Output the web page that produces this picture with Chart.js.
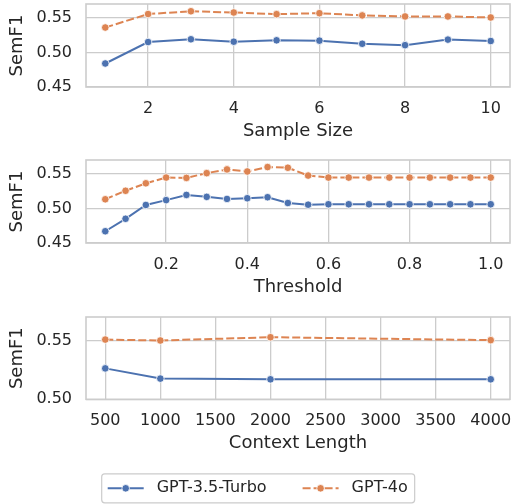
<!DOCTYPE html>
<html>
<head>
<meta charset="utf-8">
<script src="https://cdn.jsdelivr.net/npm/chart.js@4/dist/chart.umd.min.js"></script>
<style>
  html, body { margin: 0; padding: 0; background: #fff; overflow: hidden; }
  #wrap { position: relative; width: 512px; height: 504px; }
  canvas { position: absolute; left: 0; }
</style>
</head>
<body>
<div id="wrap">
  <canvas id="sampleChart" width="512" height="150" style="top:0px"></canvas>
  <canvas id="thresholdChart" width="512" height="155" style="top:150px"></canvas>
  <canvas id="contextChart" width="512" height="199" style="top:305px"></canvas>
</div>
<script>
// --- data ---
const sampleSizes = [1, 2, 3, 4, 5, 6, 7, 8, 9, 10];
const sampleGpt35 = [0.484, 0.515, 0.519, 0.5155, 0.5175, 0.517, 0.5125, 0.5105, 0.5185, 0.5165];
const sampleGpt4o = [0.536, 0.5555, 0.5595, 0.5577, 0.5553, 0.5567, 0.5535, 0.552, 0.552, 0.5505];

const thresholds = [0.05, 0.1, 0.15, 0.2, 0.25, 0.3, 0.35, 0.4, 0.45, 0.5,
                    0.55, 0.6, 0.65, 0.7, 0.75, 0.8, 0.85, 0.9, 0.95, 1.0];
const thresholdGpt35 = [0.467, 0.485, 0.505, 0.512, 0.5195, 0.5167, 0.5137, 0.5147, 0.5162, 0.5078,
                        0.5054, 0.506, 0.506, 0.506, 0.506, 0.506, 0.506, 0.506, 0.506, 0.506];
const thresholdGpt4o = [0.5132, 0.5255, 0.5363, 0.5446, 0.5441, 0.551, 0.5564, 0.5534, 0.5598, 0.5588,
                        0.5475, 0.5446, 0.5446, 0.5446, 0.5446, 0.5446, 0.5446, 0.5446, 0.5446, 0.5446];

const contextLengths = [500, 1000, 2000, 4000];
const contextGpt35 = [0.5263, 0.5176, 0.517, 0.517];
const contextGpt4o = [0.5508, 0.5500, 0.5528, 0.5503];

const seriesNames = ['GPT-3.5-Turbo', 'GPT-4o'];

// tick labels
const sampleTicks = [2, 4, 6, 8, 10];
const thresholdTicks = [0.2, 0.4, 0.6, 0.8, 1.0];
const contextTicks = [500, 1000, 1500, 2000, 2500, 3000, 3500, 4000];
const semF1Ticks = [0.45, 0.50, 0.55];
const contextSemF1Ticks = [0.50, 0.55];

const BLUE = '#4C72B0';
const ORANGE = '#DD8452';
const GRID = '#cccccc';
const TEXT = '#262626';
const FONT = '"DejaVu Sans", sans-serif';

Chart.defaults.font.family = FONT;
Chart.defaults.color = TEXT;

document.addEventListener('DOMContentLoaded', function () {
    initSampleChart();
    initThresholdChart();
    initContextChart();
});

// frame around the plot area (seaborn whitegrid spines)
const frameBox = {
    id: 'frameBox',
    beforeDatasetsDraw(chart) {
        const a = chart.chartArea;
        const ctx = chart.ctx;
        ctx.save();
        ctx.strokeStyle = GRID;
        ctx.lineWidth = 1.6;
        ctx.strokeRect(a.left, a.top, a.right - a.left, a.bottom - a.top);
        ctx.restore();
    }
};

// legend with a rounded frame below the last plot
const legendBox = {
    id: 'legendBox',
    afterDraw(chart) {
        const ctx = chart.ctx;
        const cy = 183.3;
        const startX = 107.7;
        ctx.save();
        ctx.font = '16px ' + FONT;
        ctx.textBaseline = 'middle';
        let x = startX;
        chart.data.datasets.forEach(function (ds, i) {
            if (i > 0) x += 36;
            ctx.strokeStyle = ds.borderColor;
            ctx.lineWidth = 2;
            ctx.setLineDash(ds.borderDash || []);
            ctx.beginPath();
            ctx.moveTo(x, cy);
            ctx.lineTo(x + 36, cy);
            ctx.stroke();
            ctx.setLineDash([]);
            ctx.beginPath();
            ctx.arc(x + 18, cy, 3.8, 0, Math.PI * 2);
            ctx.fillStyle = ds.borderColor;
            ctx.fill();
            ctx.strokeStyle = '#fff';
            ctx.lineWidth = 0.8;
            ctx.stroke();
            ctx.fillStyle = TEXT;
            ctx.fillText(ds.label, x + 49, cy);
            x += 49 + ctx.measureText(ds.label).width;
        });
        ctx.strokeStyle = GRID;
        ctx.lineWidth = 1.2;
        ctx.beginPath();
        ctx.roundRect(startX - 6, cy - 14.5, x + 7 - (startX - 6), 29, 3);
        ctx.stroke();
        ctx.restore();
    }
};

function makeDatasets(xs, gpt35, gpt4o) {
    const common = {
        borderWidth: 2,
        pointRadius: 3.8,
        pointHoverRadius: 3.8,
        pointBorderColor: '#fff',
        pointBorderWidth: 0.8,
        tension: 0
    };
    return [
        Object.assign({
            label: seriesNames[0],
            data: xs.map((x, i) => ({ x: x, y: gpt35[i] })),
            borderColor: BLUE,
            backgroundColor: BLUE,
            pointBackgroundColor: BLUE
        }, common),
        Object.assign({
            label: seriesNames[1],
            data: xs.map((x, i) => ({ x: x, y: gpt4o[i] })),
            borderColor: ORANGE,
            backgroundColor: ORANGE,
            pointBackgroundColor: ORANGE,
            borderDash: [8, 3]
        }, common)
    ];
}

function makeChart(id, cfg) {
    const canvas = document.getElementById(id);
    const xAxisHeight = 44 + 10.8;
    const padBottom = canvas.height - cfg.areaBottom - xAxisHeight;
    return new Chart(canvas, {
        type: 'line',
        data: { datasets: makeDatasets(cfg.xs, cfg.gpt35, cfg.gpt4o) },
        options: {
            responsive: false,
            animation: false,
            layout: {
                autoPadding: false,
                padding: { top: cfg.areaTop, right: 2, left: 0, bottom: padBottom }
            },
            plugins: {
                legend: { display: false },
                tooltip: { enabled: false }
            },
            scales: {
                x: {
                    type: 'linear',
                    min: cfg.xMin,
                    max: cfg.xMax,
                    afterBuildTicks: s => { s.ticks = cfg.xTicks.map(v => ({ value: v })); },
                    afterFit: s => {
                        s.height = xAxisHeight;
                        s.paddingLeft = 0;
                        s.paddingRight = 0;
                    },
                    grid: { color: GRID, lineWidth: 1.3, drawTicks: false },
                    border: { display: false },
                    ticks: {
                        autoSkip: false,
                        maxRotation: 0,
                        minRotation: 0,
                        padding: 12,
                        font: { size: 16 },
                        callback: cfg.xFormat
                    },
                    title: {
                        display: true,
                        text: cfg.xTitle,
                        font: { size: 18 },
                        padding: { top: 0, bottom: 0 }
                    }
                },
                y: {
                    min: cfg.yMin,
                    max: 0.57,
                    afterBuildTicks: s => { s.ticks = cfg.yTicks.map(v => ({ value: v })); },
                    afterFit: s => {
                        s.width = 86;
                        s.paddingTop = 0;
                        s.paddingBottom = 0;
                    },
                    grid: { color: GRID, lineWidth: 1.3, drawTicks: false },
                    border: { display: false },
                    ticks: {
                        padding: 14,
                        font: { size: 16 },
                        callback: v => v.toFixed(2)
                    },
                    title: {
                        display: true,
                        text: 'SemF1',
                        font: { size: 18 },
                        padding: { top: 7, bottom: 0 }
                    }
                }
            }
        },
        plugins: cfg.legend ? [frameBox, legendBox] : [frameBox]
    });
}

function initSampleChart() {
    makeChart('sampleChart', {
        xs: sampleSizes, gpt35: sampleGpt35, gpt4o: sampleGpt4o,
        areaTop: 4, areaBottom: 87,
        xMin: 0.55, xMax: 10.45, xTicks: sampleTicks,
        xFormat: v => String(v),
        xTitle: 'Sample Size',
        yMin: 0.45, yTicks: semF1Ticks
    });
}

function initThresholdChart() {
    makeChart('thresholdChart', {
        xs: thresholds, gpt35: thresholdGpt35, gpt4o: thresholdGpt4o,
        areaTop: 10, areaBottom: 93,
        xMin: 0.0025, xMax: 1.0475, xTicks: thresholdTicks,
        xFormat: v => v.toFixed(1),
        xTitle: 'Threshold',
        yMin: 0.45, yTicks: semF1Ticks
    });
}

function initContextChart() {
    makeChart('contextChart', {
        xs: contextLengths, gpt35: contextGpt35, gpt4o: contextGpt4o,
        areaTop: 12, areaBottom: 94.3,
        xMin: 325, xMax: 4175, xTicks: contextTicks,
        xFormat: v => String(v),
        xTitle: 'Context Length',
        yMin: 0.50, yTicks: contextSemF1Ticks,
        legend: true
    });
}
</script>
</body>
</html>
